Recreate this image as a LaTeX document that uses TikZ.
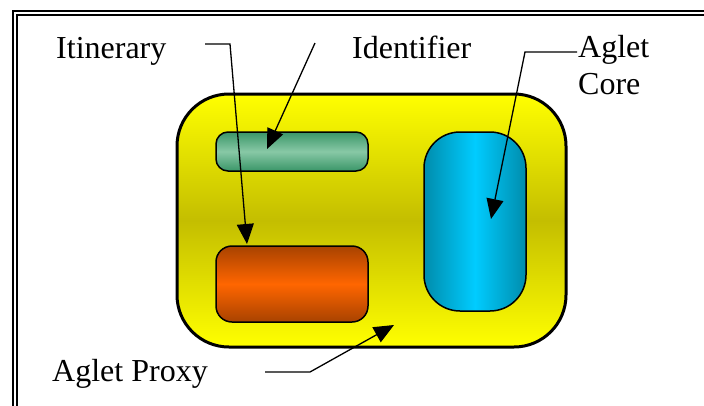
\documentclass[tikz,border=0pt]{standalone}
\usepackage{fontspec}
\setmainfont{Liberation Serif}
\usetikzlibrary{arrows.meta}
\definecolor{yelTop}{RGB}{255,255,0}
\definecolor{yelMid}{RGB}{196,190,0}
\definecolor{grnEdge}{RGB}{58,150,104}
\definecolor{grnMid}{RGB}{136,200,166}
\definecolor{orEdge}{RGB}{168,66,0}
\definecolor{orMid}{RGB}{255,102,0}
\definecolor{cyEdge}{RGB}{0,140,172}
\definecolor{cyMid}{RGB}{0,204,255}
\begin{document}
\begin{tikzpicture}[x=1pt,y=-1pt,
  lbl/.style={inner sep=0pt,font=\fontsize{32}{37}\selectfont},
  part/.style={draw=black,line width=1.5pt},
  conn/.style={line width=1.3pt,-{Triangle[length=20pt,width=17pt]}}]
\useasboundingbox (0,0) rectangle (704,405);
% frame
\draw[line width=2pt] (13,11) rectangle (730,430);
\draw[line width=2pt] (17,15) rectangle (726,426);
% aglet body
\draw[line width=3pt,rounded corners=52pt,top color=yelTop,bottom color=yelTop,middle color=yelMid]
  (177,94) rectangle (566,347);
\node[part,rounded corners=12pt,minimum width=152pt,minimum height=39pt,
  top color=grnEdge,bottom color=grnEdge,middle color=grnMid] (ident) at (292,151.5) {};
\node[part,rounded corners=16pt,minimum width=152pt,minimum height=76pt,
  top color=orEdge,bottom color=orEdge,middle color=orMid] (itin) at (292,284) {};
\node[part,rounded corners=36pt,minimum width=102pt,minimum height=179pt,
  left color=cyEdge,right color=cyEdge,middle color=cyMid] (core) at (475,221.5) {};
% labels
\node[lbl,anchor=base west] (litin) at (56,58.5) {Itinerary};
\node[lbl,anchor=base west] (lident) at (352,58) {Identifier};
\node[lbl,anchor=base west,align=left] (lcore) at (578,94) {Aglet\\Core};
\node[lbl,anchor=base west] (lproxy) at (52,381.5) {Aglet Proxy};
% connector ends
\coordinate (itS) at (205,44);
\coordinate (itB) at (230,44);
\coordinate (itT) at (247,244);
\coordinate (idS) at (315,43);
\coordinate (idT) at (267,149);
\coordinate (coS) at (577,52);
\coordinate (coB) at (525,52);
\coordinate (coT) at (491,219);
\coordinate (prS) at (265,372);
\coordinate (prB) at (310,372);
\coordinate (prT) at (394,325);
\draw[conn] (itS) -- (itB) -- (itT);
\draw[conn] (idS) -- (idT);
\draw[conn] (coS) -- (coB) -- (coT);
\draw[conn] (prS) -- (prB) -- (prT);
\end{tikzpicture}
\end{document}
